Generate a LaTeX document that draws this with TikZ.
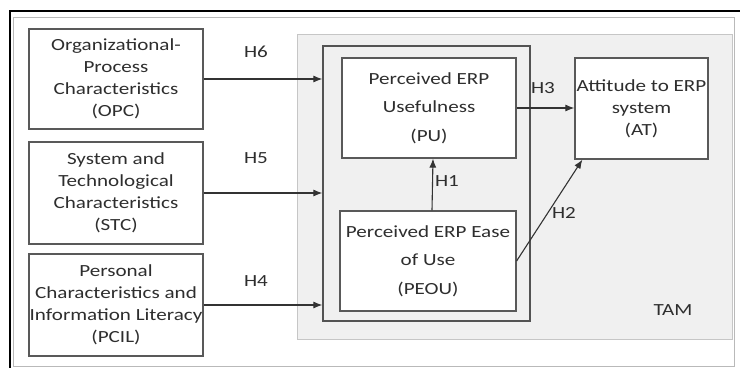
\documentclass[tikz,border=0pt]{standalone}
\usepackage{fontspec}
\setmainfont{Carlito}[FakeStretch=1.24]
\usetikzlibrary{arrows.meta}
\begin{document}
\begin{tikzpicture}[x=1pt,y=-1pt,
  every node/.style={font=\fontsize{17}{22}\selectfont, text=black!82},
  box/.style={draw=gray!70!black, line width=1.2pt, fill=white, align=center, inner sep=0pt},
  wide/.style={font=\fontsize{17}{28.5}\selectfont},
  arr/.style={-{Latex[length=9pt,width=7pt]}, line width=1.1pt, draw=black!80}]
\useasboundingbox (0,0) rectangle (740,368);

% frame
\draw[gray!55, line width=1pt] (13,17) rectangle (734,366);
\draw[line width=2.5pt] (740,11) -- (10,11) -- (10,368);

% TAM block
\filldraw[draw=gray!45, fill=gray!12, line width=1pt] (297,34) rectangle (732,339);
\node[draw=gray!65!black, fill=gray!12, line width=1.2pt, minimum width=207pt, minimum height=275pt] (inner) at (426.5,183.5) {};
\node at (673,310) {TAM};

% external factors
\node[box, minimum width=174pt, minimum height=100pt] (opc) at (116,79) {Organizational-\\Process\\Characteristics\\(OPC)};
\node[box, minimum width=174pt, minimum height=102pt] (stc) at (116,193) {System and\\Technological\\Characteristics\\(STC)};
\node[box, minimum width=174pt, minimum height=102pt] (pcil) at (116,305) {Personal\\Characteristics and\\Information Literacy\\(PCIL)};

% TAM constructs
\node[box, wide, minimum width=174pt, minimum height=100pt] (pu) at (429,108) {Perceived ERP\\Usefulness\\(PU)};
\node[box, wide, minimum width=176pt, minimum height=100pt] (peou) at (428,261) {Perceived ERP Ease\\of Use\\(PEOU)};
\node[box, minimum width=133pt, minimum height=101pt] (at) at (641.5,108.5) {Attitude to ERP\\system\\(AT)};

% hypotheses
\draw[arr] (opc.east) -- (opc.east -| inner.west);
\draw[arr] (stc.east) -- (stc.east -| inner.west);
\draw[arr] (pcil.east) -- (pcil.east -| inner.west);
\draw[arr] ([xshift=4pt]peou.north) -- ([xshift=4pt]pu.south);
\draw[arr] (peou.east) -- ([xshift=8pt]at.south west);
\draw[arr] (pu.east) -- (pu.east -| at.west);

\node at (256,52) {H6};
\node at (256,158) {H5};
\node at (256,281) {H4};
\node at (543,88) {H3};
\node at (447,181) {H1};
\node at (564,213) {H2};

\end{tikzpicture}
\end{document}
